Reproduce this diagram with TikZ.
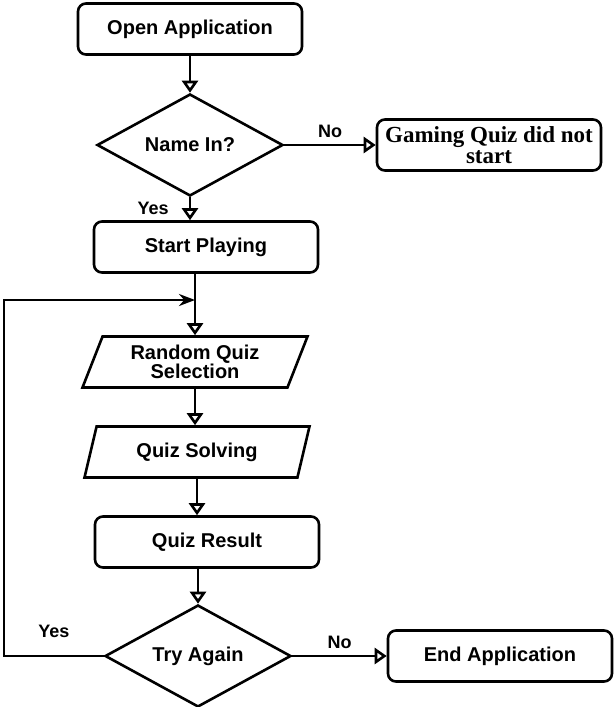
\documentclass[tikz,border=0pt]{standalone}
\usepackage{fontspec}
\setmainfont{Liberation Sans}
\newfontfamily\timesface{Liberation Serif}
\usepackage{tikz}
\usetikzlibrary{arrows.meta,shapes.geometric}

\begin{document}
\begin{tikzpicture}[
  x=0.5pt,y=-0.5pt,
  every node/.style={font=\bfseries\fontsize{10}{9.5}\selectfont},
  proc/.style={draw,line width=1.3pt,rounded corners=4pt,
    minimum width=112pt,minimum height=25.5pt,align=center,inner sep=1pt},
  decide/.style={draw,line width=1.3pt,diamond,aspect=1.8,
    minimum width=93pt,minimum height=51pt,inner sep=0pt},
  io/.style={draw,line width=1.3pt,trapezium,trapezium left angle=62,
    trapezium right angle=118,trapezium stretches body,
    minimum width=112.5pt,minimum height=25.5pt,align=center,inner sep=1pt},
  lbl/.style={font=\bfseries\fontsize{9}{9}\selectfont,inner sep=1pt},
  arr/.style={-{Triangle[open,length=6pt,width=8pt]},line width=1.3pt},
  back/.style={-{Stealth[length=8pt,width=6pt]},line width=1.3pt}
]
  \useasboundingbox (0,0) rectangle (614,707);

  \node[proc] (open) at (190,29) {Open Application};
  \node[decide] (name) at (190,145) {Name In?};
  \node[proc,font=\timesface\bfseries\fontsize{11.5}{10.5}\selectfont] (gaming)
    at (489,145) {Gaming Quiz did not\\start};
  \node[proc] (start) at (206,247) {Start Playing};
  \node[io] (random) at (195,362) {Random Quiz\\Selection};
  \node[io] (solving) at (197,452) {Quiz Solving};
  \node[proc] (result) at (207,542) {Quiz Result};
  \node[decide] (again) at (198,656) {Try Again};
  \node[proc] (endapp) at (500,656) {End Application};
  \coordinate (loopcorner) at (4,300);

  \draw[arr] (open) -- (name);
  \draw[arr] (name) -- node[lbl,above=2pt] {No} (gaming);
  \draw[arr] (name.south) -- node[lbl,left=9pt] {Yes} (name.south |- start.north);
  \draw[arr] (start.south -| random.north) -- (random.north);
  \draw[arr] (random.south) -- (random.south |- solving.north);
  \draw[arr] (solving.south) -- (solving.south |- result.north);
  \draw[arr] (result.south -| again.north) -- (again.north);
  \draw[arr] (again) -- node[lbl,above=2pt] {No} (endapp);
  \draw[back] (again.west) -| node[lbl,pos=0.25,above=7.5pt] {Yes} (loopcorner)
    -- (loopcorner -| random.north);
\end{tikzpicture}
\end{document}
